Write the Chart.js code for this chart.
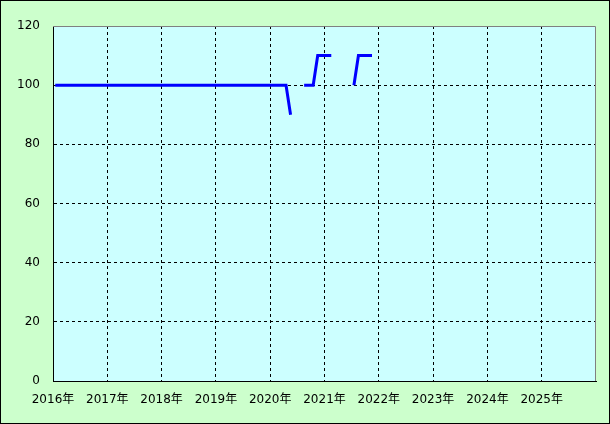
<!DOCTYPE html>
<html>
<head>
<meta charset="utf-8">
<script src="https://cdn.jsdelivr.net/npm/chart.js@4/dist/chart.umd.min.js"></script>
<style>
  html, body { margin: 0; padding: 0; background: #ccffcc; }
  #wrap { width: 610px; height: 424px; position: relative; }
</style>
</head>
<body>
<div id="wrap"><canvas id="chart"></canvas></div>
<script>
// tick labels along the bottom (one per year, 12 months each)
const yearLabels = ['2016年', '2017年', '2018年', '2019年', '2020年', '2021年', '2022年', '2023年', '2024年', '2025年'];
const yTicks = [0, 20, 40, 60, 80, 100, 120];

// monthly values from Jan 2016, null = no value that month
const values2016 = [100, 100, 100, 100, 100, 100, 100, 100, 100, 100, 100, 100];
const values2017 = [100, 100, 100, 100, 100, 100, 100, 100, 100, 100, 100, 100];
const values2018 = [100, 100, 100, 100, 100, 100, 100, 100, 100, 100, 100, 100];
const values2019 = [100, 100, 100, 100, 100, 100, 100, 100, 100, 100, 100, 100];
const values2020 = [100, 100, 100, 100, 90, null, null, 100, 100, 100, 110, 110];
const values2021 = [110, 110, null, null, null, null, 100, 110, 110, 110, 110, null];

const monthly = [].concat(values2016, values2017, values2018, values2019, values2020, values2021);
const totalMonths = yearLabels.length * 12;

// each month sits in the middle of its slot
const points = monthly.map((v, i) => ({ x: i + 0.5, y: v }));

const frame = {
    id: 'frame',
    beforeDraw(chart) {
        const { ctx, chartArea: a } = chart;
        ctx.save();
        ctx.fillStyle = '#ccffcc';
        ctx.fillRect(0, 0, chart.width, chart.height);
        ctx.fillStyle = '#ccffff';
        ctx.fillRect(a.left, a.top, a.right - a.left, a.bottom - a.top);
        ctx.restore();
    },
    afterDraw(chart) {
        const { ctx, chartArea: a } = chart;
        ctx.save();
        ctx.lineWidth = 1;
        ctx.strokeStyle = '#808080';
        ctx.beginPath();
        ctx.moveTo(a.left, a.top + 0.5);
        ctx.lineTo(a.right - 0.5, a.top + 0.5);
        ctx.lineTo(a.right - 0.5, a.bottom);
        ctx.stroke();
        ctx.strokeStyle = '#000000';
        ctx.strokeRect(0.5, 0.5, chart.width - 1, chart.height - 1);
        ctx.restore();
    }
};

const font = { family: '"DejaVu Sans", "Noto Sans CJK JP", sans-serif', size: 12 };

new Chart(document.getElementById('chart'), {
    type: 'line',
    data: {
        datasets: [{
            data: points,
            borderColor: '#0000ff',
            borderWidth: 3,
            pointRadius: 0,
            tension: 0,
            spanGaps: false,
            fill: false
        }]
    },
    options: {
        responsive: true,
        maintainAspectRatio: false,
        animation: false,
        events: [],
        layout: { padding: { top: 26, right: 14, left: 0, bottom: 0 } },
        plugins: { legend: { display: false }, tooltip: { enabled: false } },
        scales: {
            x: {
                type: 'linear',
                min: 0,
                max: totalMonths,
                afterFit(scale) { scale.height = 43; },
                afterBuildTicks(scale) {
                    scale.ticks = yearLabels.map((_, i) => ({ value: i * 12 })).concat([{ value: totalMonths }]);
                },
                ticks: {
                    color: '#000',
                    font,
                    padding: 12,
                    maxRotation: 0,
                    autoSkip: false,
                    callback: (v) => yearLabels[v / 12] || ''
                },
                grid: {
                    color: (c) => (c.tick && (c.tick.value === 0 || c.tick.value === totalMonths)) ? 'transparent' : '#000',
                    lineWidth: 1,
                    drawTicks: false
                },
                border: { display: true, color: '#000', width: 1, dash: [3, 3] }
            },
            y: {
                min: 0,
                max: 120,
                afterFit(scale) { scale.width = 53; },
                afterBuildTicks(scale) {
                    scale.ticks = yTicks.map(v => ({ value: v }));
                },
                ticks: {
                    color: '#000',
                    font,
                    padding: 13
                },
                grid: {
                    color: (c) => (c.tick && (c.tick.value === 0 || c.tick.value === 120)) ? 'transparent' : '#000',
                    lineWidth: 1,
                    drawTicks: false
                },
                border: { display: true, color: '#000', width: 1, dash: [3, 3] }
            }
        }
    },
    plugins: [frame]
});
</script>
</body>
</html>
